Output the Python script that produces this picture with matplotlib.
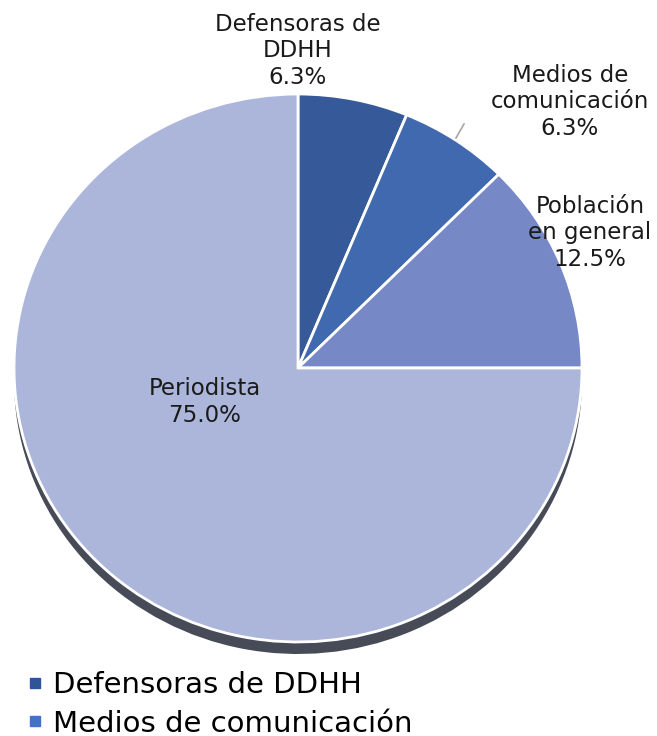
import math
import matplotlib
matplotlib.use("Agg")
import matplotlib.pyplot as plt
from matplotlib.lines import Line2D

categories = ["Defensoras de DDHH", "Medios de comunicación", "Población en general", "Periodista"]
label_lines = ["Defensoras de\nDDHH", "Medios de\ncomunicación", "Población\nen general", "Periodista"]
counts = [1, 1, 2, 12]
colors = ["#36599A", "#4169B0", "#7689C6", "#ACB6DA"]
legend_colors = ["#2F5597", "#4472C4"]
legend_labels = categories[:2]

W, H = 657, 736
FONT = ["DejaVu Sans"]

fig = plt.figure(figsize=(W / 100, H / 100), dpi=100)
ax = fig.add_axes([0, 0, 1, 1])

cx_px, cy_px = 298, 368  # pie centre in pixels from top-left
rx_px, ry_px = 284, 274

# shadow
ax.pie(counts, colors=["#464B57"] * len(counts), startangle=90, counterclock=False,
       radius=1.0, center=(0, -12 / ry_px), wedgeprops=dict(linewidth=0))
for w in ax.patches:
    w.set_zorder(0)
wedges, _ = ax.pie(counts, colors=colors, startangle=90, counterclock=False,
                   radius=1.0, wedgeprops=dict(edgecolor="white", linewidth=2))
for w in wedges:
    w.set_zorder(2)

ax.set_aspect("auto")
ax.set_xlim(-cx_px / rx_px, (W - cx_px) / rx_px)
ax.set_ylim(-(H - cy_px) / ry_px, cy_px / ry_px)
ax.axis("off")

def px(x, y):
    return ((x - cx_px) / rx_px, (cy_px - y) / ry_px)

total = sum(counts)
def pct(v):
    p = v / total * 100
    return f"{math.floor(p * 10 + 0.5) / 10:.1f}%"

label_pos = [(298, 51), (570, 102), (590, 233), (205, 402)]
for txt, v, (x, y) in zip(label_lines, counts, label_pos):
    ax.text(*px(x, y), f"{txt}\n{pct(v)}", ha="center", va="center", fontsize=16.5,
            family=FONT, color="#1a1a1a", linespacing=1.22, zorder=5)

# leader line for Medios de comunicación
(x1, y1), (x2, y2) = px(456, 138), px(464, 124)
ax.plot([x1, x2], [y1, y2], color="#A6A6A6", linewidth=1.2, zorder=5)

handles = [Line2D([], [], marker="s", linestyle="none", markersize=7,
                  markerfacecolor=c, markeredgecolor=c) for c in legend_colors]
fig.legend(handles, legend_labels, loc="upper left", bbox_to_anchor=(28 / W, 1 - 671 / H),
           frameon=False, prop=dict(family=FONT, size=21), handlelength=0.5,
           handletextpad=0.35, labelspacing=0.36, borderpad=0, borderaxespad=0)

fig.savefig("out.png", dpi=100)
